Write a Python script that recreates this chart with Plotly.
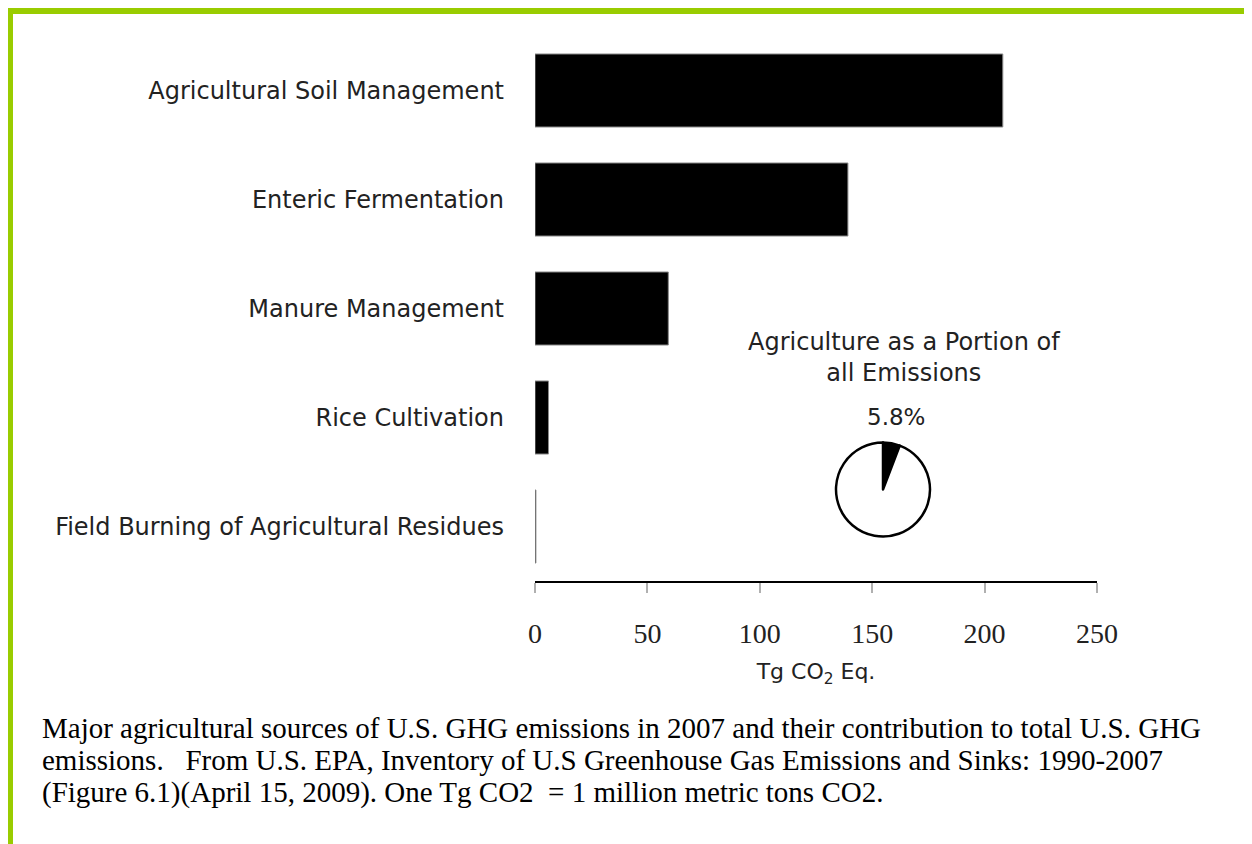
import plotly.graph_objects as go

# Datos (Tg CO2 Eq., 2007)
fuentes = [
    "Agricultural Soil Management",
    "Enteric Fermentation",
    "Manure Management",
    "Rice Cultivation",
    "Field Burning of Agricultural Residues",
]
emisiones = [208.1, 139.2, 59.3, 6.0, 0.4]

porcion_agricultura = 5.8
porciones = [porcion_agricultura, 100 - porcion_agricultura]

ticks_x = [0, 50, 100, 150, 200, 250]

pie_titulo = "Agriculture as a Portion of<br>all Emissions"
lineas_leyenda = [
    "Major agricultural sources of U.S. GHG emissions in 2007 and their contribution to total U.S. GHG",
    "emissions.   From U.S. EPA, Inventory of U.S Greenhouse Gas Emissions and Sinks: 1990-2007",
    "(Figure 6.1)(April 15, 2009). One Tg CO2  = 1 million metric tons CO2.",
]

ANCHO, ALTO = 1252, 844
OFF = 8  # margen del body de la página
# área de trazado en píxeles de la página
IZQ, DER, ARR, ABA = 535, 1097, 36, 581

def px_x(px):
    return (px - IZQ) / (DER - IZQ)

def px_y(py):
    return (ABA - py) / (ABA - ARR)

SANS = "DejaVu Sans, sans-serif"
SERIF = "Liberation Serif, Times New Roman, serif"
VERDE = "#99cc00"
GRIS = '#222222'

fig = go.Figure()
fig.add_trace(go.Bar(
    x=emisiones, y=fuentes, orientation='h', width=0.67,
    marker=dict(color='black', line=dict(color='#8a8a8a', width=1)),
    hoverinfo='x+y'
))

fig.add_trace(go.Pie(
    values=porciones, sort=False, direction='clockwise', rotation=0,
    marker=dict(colors=['black', 'white'], line=dict(color='black', width=2.5)),
    textinfo='none', hoverinfo='percent', showlegend=False,
    domain=dict(x=[px_x(836), px_x(930)], y=[px_y(538), px_y(441)])
))

fig.update_layout(
    width=ANCHO, height=ALTO,
    margin=dict(l=IZQ - OFF, r=ANCHO - (DER - OFF), t=ARR - OFF, b=ALTO - (ABA - OFF)),
    plot_bgcolor='white', paper_bgcolor='white',
    showlegend=False,
    xaxis=dict(
        range=[0, 250], tickvals=ticks_x, showgrid=False, zeroline=False,
        showline=True, linecolor='black', linewidth=2,
        ticks='outside', ticklen=10, tickcolor='#b0b0b0', tickwidth=2,
        tickfont=dict(family=SERIF, size=28, color=GRIS),
        ticklabelstandoff=16,
        title=dict(text="Tg CO<sub>2</sub> Eq.", font=dict(family=SANS, size=22, color=GRIS),
                   standoff=16),
    ),
    yaxis=dict(
        categoryorder='array', categoryarray=fuentes[::-1],
        showgrid=False, zeroline=False, showline=False, ticks='',
        tickfont=dict(family=SANS, size=24, color=GRIS),
        ticklabelstandoff=30,
    ),
    bargap=0.33,
)

fig.add_annotation(
    x=px_x(904), y=px_y(357), xref='paper', yref='paper',
    xanchor='center', yanchor='middle',
    text=pie_titulo, showarrow=False, align='center',
    font=dict(family=SANS, size=24, color=GRIS)
)
fig.add_annotation(
    x=px_x(896), y=px_y(417), xref='paper', yref='paper',
    xanchor='center', yanchor='middle',
    text=f"{porcion_agricultura}%", showarrow=False,
    font=dict(family=SANS, size=23, color=GRIS)
)
for i, linea in enumerate(lineas_leyenda):
    fig.add_annotation(
        x=px_x(40), y=px_y(728 + 32 * i), xref='paper', yref='paper',
        xanchor='left', yanchor='middle', align='left',
        text=linea, showarrow=False,
        font=dict(family=SERIF, size=29, color='black')
    )

# Borde verde (arriba e izquierda)
fig.add_shape(type='rect', xref='paper', yref='paper',
              x0=px_x(OFF), x1=px_x(ANCHO + 20), y0=px_y(14), y1=px_y(OFF),
              fillcolor=VERDE, line_width=0, layer='above')
fig.add_shape(type='rect', xref='paper', yref='paper',
              x0=px_x(OFF), x1=px_x(13), y0=px_y(ALTO + 20), y1=px_y(OFF),
              fillcolor=VERDE, line_width=0, layer='above')

fig.write_html("out.html")
